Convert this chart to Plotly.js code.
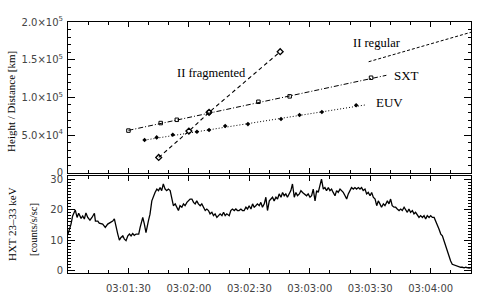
<!DOCTYPE html>
<html><head><meta charset="utf-8">
<script src="https://cdn.plot.ly/plotly-3.0.1.min.js"></script>
<style>html,body{margin:0;padding:0;background:#fff}#g{width:491px;height:293px}</style>
</head><body><div id="g"></div>
<script>
// time in seconds after 03:01:00
var xTickVals = [30, 60, 90, 120, 150, 180];
var xTickText = ["03:01:30", "03:02:00", "03:02:30", "03:03:00", "03:03:30", "03:04:00"];
var yTopVals = [0, 50000, 100000, 150000, 200000];
var yTopText = ["0", "5.0×10<sup>4</sup>", "1.0×10<sup>5</sup>", "1.5×10<sup>5</sup>", "2.0×10<sup>5</sup>"];
var yBotVals = [0, 10, 20, 30];
var yBotText = ["0", "10", "20", "30"];

var sxtT = [30, 46, 54, 70, 94.5, 110, 150.4];
var sxtY = [56000, 66000, 70300, 80200, 94200, 101400, 126100];
var sxtFitT = [30, 158];
var sxtFitY = [56300, 129300];

var euvT = [38, 44, 52, 64, 70, 78, 89.3, 105.7, 114.9, 126, 143];
var euvY = [43400, 47000, 50400, 54400, 56700, 62000, 64600, 71300, 76600, 80600, 89500];
var euvFitT = [38, 148];
var euvFitY = [43400, 90200];

var fragT = [45, 60, 70, 105.3];
var fragY = [20400, 55300, 80200, 160600];

var regT = [149.2, 200];
var regY = [147300, 186400];

var hxtT = [0,1.5,2.3,3.6,4.5,5.3,6.5,7.3,8.1,8.9,9.8,10.9,11.9,13.1,13.6,14.8,15.5,17.2,18.5,19.7,20.9,22.2,23,23.8,24.7,25.5,26.3,27.2,28,28.8,29.7,30.5,31.3,32.1,32.9,33.8,35.1,35.8,37.1,37.9,38.7,39.9,40.7,41.6,42.4,43.2,44.1,44.9,45.7,46.5,47.3,48.2,49,49.8,50.7,51.5,52.3,53.2,54,54.8,55.6,56.5,57.3,58.1,59,59.8,60.6,61.5,62.3,63.1,63.9,64.7,65.6,66.4,67.2,68.1,68.9,69.7,70.5,71.4,72.2,73,73.9,74.7,75.5,76.4,77.2,78,78.8,80,80.8,81.6,82.5,83.3,84.1,84.9,85.8,86.6,87.4,88.3,89.1,89.9,90.8,91.6,92.4,93.2,94,94.9,95.7,96.5,97.4,98.2,99,99.9,100.7,101.5,102.3,103.2,104,104.8,105.7,106.5,107.3,108.1,108.9,109.8,110.6,111.4,112.3,113.1,113.9,114.8,115.6,116.4,117.6,118.4,119.2,120.1,120.9,121.7,122.6,123.4,124.2,125,125.8,126.7,127.5,128.3,129.2,130,130.8,131.6,132.5,133.3,134.1,135,135.8,136.6,137.5,138.3,139.1,139.9,140.7,141.6,142.4,143.2,144.1,144.9,145.7,146.5,147.4,148.2,149,149.9,150.7,151.5,152.4,153.2,154,154.8,155.6,156.5,157.3,158.5,159.3,160.1,160.9,161.8,162.6,163.4,164.3,165.1,165.9,166.8,167.6,168.4,169.2,170,170.9,171.7,172.5,173.4,174.2,175,175.9,176.7,177.5,178.3,179.2,180,180.8,181.7,182.5,183.3,184.1,185,185.8,186.6,187.4,188.3,189.1,189.9,190.7,191.6,192.4,193.2,194.1,194.9,195.7,196.6,197.4,198.2,199,199.9];
var hxtV = [12,15.3,18,20,17.5,18.9,17.2,18,17,19,17.5,16.6,17.5,18.9,16.3,16.3,15.6,15.3,14.2,15.3,15.8,16.3,17,14.2,12,10,10.9,11.4,10.3,9.8,11.4,12,11.4,12.2,11.6,12,12,14.2,17.5,15.3,12.5,16.4,18.6,23,24.7,25.8,26.9,26.4,27.4,26.4,28.6,26.9,26.4,26.9,26.4,23.6,21.4,22,20.9,19.8,21.4,20.9,22,21.4,22.5,23,23.6,23.6,22.5,22,23,22,21.4,22,20.9,19.8,20.3,19.8,18.7,19.2,18.1,18.7,17.5,18.1,18.7,18.1,19.2,18.1,18.7,18.1,19.8,20.3,19.8,20.3,19.8,19.8,20.3,19.8,19.8,20.9,20.3,21.4,20.3,22,20.9,21.4,22,21.4,22.5,20.9,22,24.2,19.8,23,23.6,24.2,23,24.2,23.6,25.3,24.2,25.8,24.7,25.3,24.2,25.3,26.4,28.6,24.2,25.8,24.7,25.3,26.4,25.8,25.3,24.7,25.3,24.2,24.7,26.9,23,26.4,25.8,28.6,30.2,26.9,27.4,26.4,27.4,26.4,26.9,25.8,24.7,26.4,25.8,26.9,26.4,25.8,24.7,23.6,25.3,26.4,27.4,26.9,27.4,26.9,27.4,26.9,27.4,26.4,26.9,25.3,25.8,24.7,25.8,24.2,23.6,21.4,23,22,20.9,22,21.4,23,22,23.6,21.4,20.9,20.9,20.3,19.8,20.3,19.8,20.9,19.8,19.2,20.3,19.2,19.8,18.7,19.2,18.1,17.5,18.1,17.5,18.1,17,18.1,17.5,18.1,17.5,17.5,16.4,14.8,13.7,12,11.4,9.8,8.1,5.9,4.8,3.1,2,1.8,1.5,1.2,1.2,1,1,0.8,1,0.8,0.7,0.8];

var K = '#000';
var traces = [
  {x: hxtT, y: hxtV, xaxis: 'x2', yaxis: 'y2', mode: 'lines', line: {color: K, width: 1.3}},
  {x: regT, y: regY, mode: 'lines', line: {color: K, width: 1, dash: '3px,2px'}},
  {x: sxtFitT, y: sxtFitY, mode: 'lines', line: {color: K, width: 1, dash: '5px,2px,1px,2px'}},
  {x: sxtT, y: sxtY, mode: 'markers', marker: {symbol: 'square-open', size: 3.5, color: K, line: {width: 1, color: K}}},
  {x: euvFitT, y: euvFitY, mode: 'lines', line: {color: K, width: 1, dash: '1px,2px'}},
  {x: euvT, y: euvY, mode: 'markers', marker: {symbol: 'diamond', size: 3.5, color: K}},
  {x: fragT, y: fragY, mode: 'lines+markers', line: {color: K, width: 1.1, dash: '4px,3px'},
   marker: {symbol: 'diamond-open', size: 4.5, color: K, line: {width: 1.3, color: K}}}
];

var tickFont = {family: 'DejaVu Sans', size: 10, color: '#444'};
var serif = 'Liberation Serif';
function ax(extra) {
  var a = {showgrid: false, zeroline: false, showline: true, linecolor: K, linewidth: 1,
    mirror: 'ticks', ticks: 'inside', tickcolor: K, tickfont: tickFont, tickmode: 'array'};
  for (var k in extra) a[k] = extra[k];
  return a;
}
var L = 68, W = 403, T = 21.7, H = 251.3;
function px(x) { return (x - L) / W; }
function py(y) { return (T + H - y) / H; }
function rot(text, x, y, size) {
  return {text: text, x: px(x), y: py(y), xref: 'paper', yref: 'paper', xanchor: 'center', yanchor: 'middle',
    textangle: -90, showarrow: false, font: {family: serif, size: size, color: K}};
}

var layout = {
  width: 491, height: 293, showlegend: false,
  margin: {l: L, r: 20, t: T, b: 293 - T - H, pad: 0},
  paper_bgcolor: '#fff', plot_bgcolor: '#fff',
  xaxis: ax({range: [0, 200], domain: [0, 1], anchor: 'y', tickvals: xTickVals, ticktext: xTickText,
    showticklabels: false, ticklen: 5, minor: {ticks: 'inside', dtick: 10, tick0: 0, ticklen: 3, tickcolor: K}}),
  yaxis: ax({range: [0, 200000], domain: [py(172.7), 1], anchor: 'x', tickvals: yTopVals, ticktext: yTopText,
    ticklen: 7, ticklabelstandoff: 2, minor: {ticks: 'inside', dtick: 10000, tick0: 0, ticklen: 3, tickcolor: K}}),
  xaxis2: ax({range: [0, 200], domain: [0, 1], anchor: 'y2', tickvals: xTickVals, ticktext: xTickText,
    ticklen: 5, ticklabelstandoff: 6, minor: {ticks: 'inside', dtick: 10, tick0: 0, ticklen: 3, tickcolor: K}}),
  yaxis2: ax({range: [-0.9, 31.2], domain: [0, py(176)], anchor: 'x2', tickvals: yBotVals, ticktext: yBotText,
    ticklen: 7, ticklabelstandoff: 2, minor: {ticks: 'inside', dtick: 1, tick0: 0, ticklen: 3, tickcolor: K}}),
  annotations: [
    {text: 'II fragmented', x: 71, y: 132300, xref: 'x', yref: 'y', showarrow: false, font: {family: serif, size: 12.5, color: K}},
    {text: 'II regular', x: 153.5, y: 172100, xref: 'x', yref: 'y', showarrow: false, font: {family: serif, size: 12.5, color: K}},
    {text: 'SXT', x: 160.8, y: 129700, xref: 'x', yref: 'y', xanchor: 'left', showarrow: false, font: {family: serif, size: 13, color: K}},
    {text: 'EUV', x: 151.7, y: 92900, xref: 'x', yref: 'y', xanchor: 'left', showarrow: false, font: {family: serif, size: 13, color: K}},
    rot('Height / Distance [km]', 11.7, 101, 11),
    rot('HXT 23–33 keV', 12, 224, 11),
    rot('[counts/s/sc]', 33, 230, 10.5)
  ]
};
Plotly.newPlot('g', traces, layout, {staticPlot: true, displayModeBar: false});
</script></body></html>
